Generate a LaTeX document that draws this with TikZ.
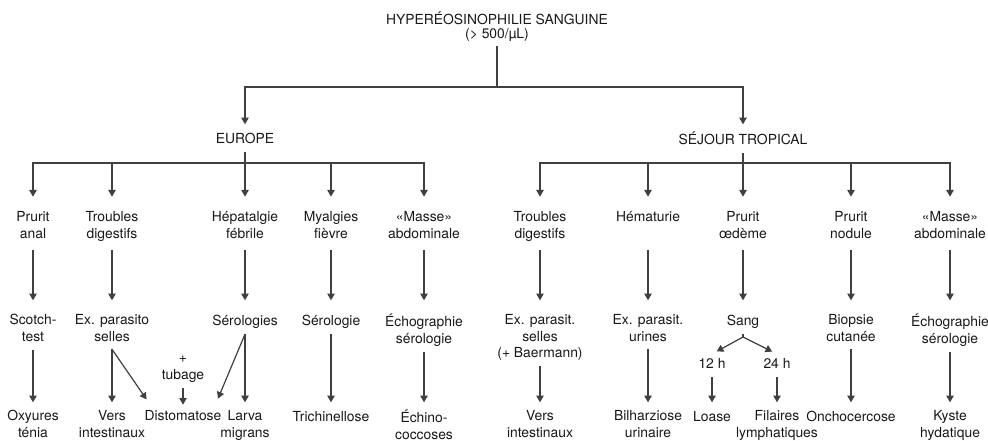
\documentclass[tikz,border=0pt]{standalone}
\usepackage{fontspec}
\setmainfont{TeX Gyre Heros}
\usetikzlibrary{arrows.meta}

\tikzset{
  lbl/.style={align=center, anchor=north, inner xsep=1pt, inner ysep=2pt, text=black!90,
    font=\fontsize{10.4}{12.5}\selectfont,
    execute at begin node=\strut, execute at end node=\strut},
  wire/.style={draw=black!75},
  arr/.style={draw=black!75, ->, shorten >=#1},
  arr/.default=3.5pt
}

\begin{document}
\begin{tikzpicture}[x=0.75pt, y=-0.75pt, line width=0.9pt, >={Triangle[length=5pt,width=5.5pt]}]
  \fill[white] (0,0) rectangle (988,441);
  \useasboundingbox (0,0) rectangle (988,441);

  % Root and the two regions
  \node[lbl, font=\fontsize{10.4}{10.5}\selectfont] (root) at (497,9) {HYPERÉOSINOPHILIE SANGUINE\\(> 500/µL)};
  \coordinate (split) at (497,87);
  \node[lbl] (eu) at (245,129) {EUROPE};
  \node[lbl] (tr) at (743,129) {SÉJOUR TROPICAL};
  \draw[wire] (root) -- (split);
  \draw[arr] (split) -| (eu);
  \draw[arr] (split) -| (tr);
  \coordinate (eubar) at (245,163);
  \coordinate (trbar) at (743,163);
  \draw[wire] (eu) -- (eubar);
  \draw[wire] (tr) -- (trbar);

  % Europe: symptoms
  \node[lbl] (pranal) at (33,208) {Prurit\\anal};
  \node[lbl] (trdig) at (112,208) {Troubles\\digestifs};
  \node[lbl] (hepat) at (245,208) {Hépatalgie\\fébrile};
  \node[lbl] (myalg) at (331,208) {Myalgies\\fièvre};
  \node[lbl] (masseE) at (424,208) {«Masse»\\abdominale};
  \foreach \n in {pranal,trdig,hepat,myalg,masseE}
    \draw[arr=8.5pt] (eubar) -| (\n);

  % Europe: examinations
  \node[lbl] (scotch) at (33,311) {Scotch-\\test};
  \node[lbl] (exsel) at (112,311) {Ex. parasito\\selles};
  \node[lbl] (serols) at (245,311) {Sérologies};
  \node[lbl] (serol) at (331,311) {Sérologie};
  \node[lbl] (echoE) at (424,311) {Échographie\\sérologie};
  \draw[arr=8pt, shorten <=2.5pt] (pranal) -- (scotch);
  \draw[arr=8pt, shorten <=2.5pt] (trdig) -- (exsel);
  \draw[arr=8pt, shorten <=2.5pt] (hepat) -- (serols);
  \draw[arr=8pt, shorten <=2.5pt] (myalg) -- (serol);
  \draw[arr=8pt, shorten <=2.5pt] (masseE) -- (echoE);

  % Europe: diagnoses
  \node[lbl] (oxy) at (33,407) {Oxyures\\ténia};
  \node[lbl] (vers) at (112,407) {Vers\\intestinaux};
  \node[lbl] (disto) at (183,406) {Distomatose};
  \node[lbl] (larva) at (245,407) {Larva\\migrans};
  \node[lbl] (trich) at (331,407) {Trichinellose};
  \node[lbl] (echino) at (424,407) {Échino-\\coccoses};
  \node[lbl] (tubage) at (183,353) {+\\tubage};
  \draw[arr] (scotch) -- (oxy);
  \draw[arr] (exsel) -- (vers);
  \draw[arr=6pt] (exsel.south) -- (disto.160);
  \draw[arr=6pt] (serols.south) -- (disto.20);
  \draw[arr=1pt] (tubage) -- (disto);
  \draw[arr] (serols) -- (larva);
  \draw[arr] (serol) -- (trich);
  \draw[arr] (echoE) -- (echino);

  % Tropical stay: symptoms
  \node[lbl] (trdigT) at (540,208) {Troubles\\digestifs};
  \node[lbl] (hemat) at (648,208) {Hématurie\\\mbox{}};
  \node[lbl] (pruoed) at (743,208) {Prurit\\œdème};
  \node[lbl] (prunod) at (851,208) {Prurit\\nodule};
  \node[lbl] (masseT) at (950,208) {«Masse»\\abdominale};
  \foreach \n in {trdigT,hemat,pruoed,prunod,masseT}
    \draw[arr=8.5pt] (trbar) -| (\n);

  % Tropical stay: examinations
  \node[lbl] (exselT) at (540,311) {Ex. parasit.\\selles\\(+ Baermann)};
  \node[lbl] (exuri) at (648,311) {Ex. parasit.\\urines};
  \node[lbl] (sang) at (743,311) {Sang};
  \node[lbl] (biop) at (851,311) {Biopsie\\cutanée};
  \node[lbl] (echoT) at (950,311) {Échographie\\sérologie};
  \draw[arr=8pt, shorten <=2.5pt] (trdigT) -- (exselT);
  \draw[arr=8pt, shorten <=2.5pt] (hemat) -- (exuri);
  \draw[arr=8pt, shorten <=2.5pt] (pruoed) -- (sang);
  \draw[arr=8pt, shorten <=2.5pt] (prunod) -- (biop);
  \draw[arr=8pt, shorten <=2.5pt] (masseT) -- (echoT);

  % Blood: 12 h / 24 h
  \coordinate (sangj) at (743,337);
  \node[lbl] (h12) at (712,354) {12 h};
  \node[lbl] (h24) at (777,354) {24 h};
  \draw[wire] (sang) -- (sangj);
  \draw[arr=4pt] (sangj) -- (h12.north);
  \draw[arr=4pt] (sangj) -- (h24.north);

  % Tropical stay: diagnoses
  \node[lbl] (versT) at (540,407) {Vers\\intestinaux};
  \node[lbl] (bilh) at (648,407) {Bilharziose\\urinaire};
  \node[lbl] (loase) at (712,407) {Loase};
  \node[lbl] (filai) at (777,407) {Filaires\\lymphatiques};
  \node[lbl] (oncho) at (851,407) {Onchocercose};
  \node[lbl] (kyste) at (950,407) {Kyste\\hydatique};
  \draw[arr] (exselT) -- (versT);
  \draw[arr] (exuri) -- (bilh);
  \draw[arr] (h12) -- (loase);
  \draw[arr] (h24) -- (filai);
  \draw[arr] (biop) -- (oncho);
  \draw[arr] (echoT) -- (kyste);
\end{tikzpicture}
\end{document}
